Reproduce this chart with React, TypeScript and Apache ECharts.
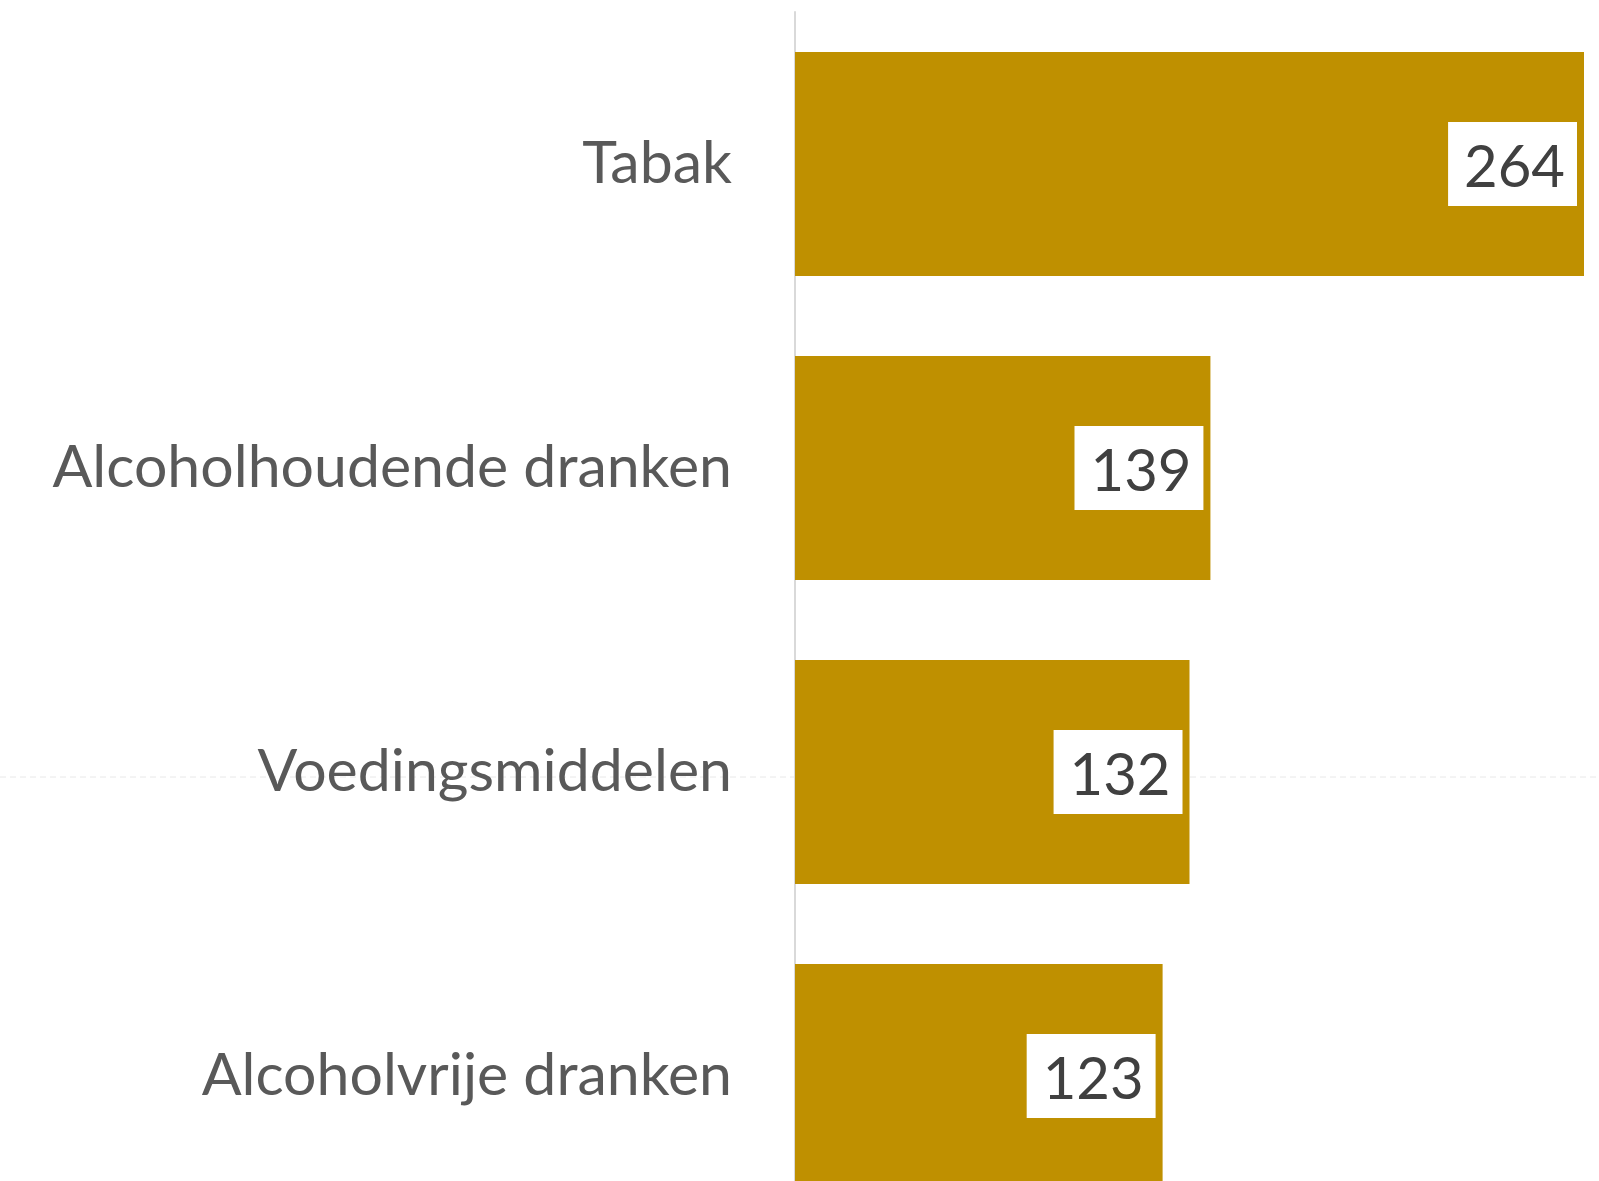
import React, { useEffect, useRef } from "react";
import * as echarts from "echarts";

const categories = ["Tabak", "Alcoholhoudende dranken", "Voedingsmiddelen", "Alcoholvrije dranken"];
const values = [264, 139, 132, 123];

export default function App() {
  const ref = useRef<HTMLDivElement>(null);
  useEffect(() => {
    if (!ref.current) return;
    const chart = echarts.init(ref.current, null, { renderer: "svg" });
    chart.setOption({
      animation: false,
      backgroundColor: "#ffffff",
      graphic: [
        {
          type: "line",
          z: 0,
          shape: { x1: 0, y1: 777, x2: 1599, y2: 777 },
          style: { stroke: "#e8e8e8", lineWidth: 1, lineDash: [6, 4] },
        },
      ],
      grid: { left: 795, top: 12, width: 789, height: 1216, containLabel: false },
      xAxis: {
        type: "value",
        min: 0,
        max: 264,
        axisLine: { show: false },
        axisTick: { show: false },
        axisLabel: { show: false },
        splitLine: { show: false },
      },
      yAxis: {
        type: "category",
        inverse: true,
        data: categories,
        axisLine: { show: true, lineStyle: { color: "#d9d9d9", width: 2 } },
        axisTick: { show: false },
        axisLabel: {
          margin: 63,
          fontFamily: "Lato",
          fontSize: 59,
          color: "#595959",
          formatter: "{a|{value}}",
          rich: {
            a: {
              fontFamily: "Lato",
              fontSize: 59,
              color: "#595959",
              padding: [0, 0, 8, 0],
            },
          },
        },
      },
      series: [
        {
          type: "bar",
          data: values,
          barCategoryGap: "26.3%",
          itemStyle: { color: "#BF9000" },
          z: 2,
          label: {
            show: true,
            position: "insideRight",
            distance: 7,
            fontFamily: "Lato",
            fontSize: 58,
            color: "#404040",
            backgroundColor: "#ffffff",
            padding: [14, 12, 12, 16],
          },
        },
      ],
    });
    return () => chart.dispose();
  }, []);
  return (
    <div style={{ position: "fixed", left: 0, top: 0, width: 1599, height: 1181, overflow: "hidden", background: "#fff" }}>
      <div ref={ref} style={{ width: 1599, height: 1240 }} />
    </div>
  );
}
